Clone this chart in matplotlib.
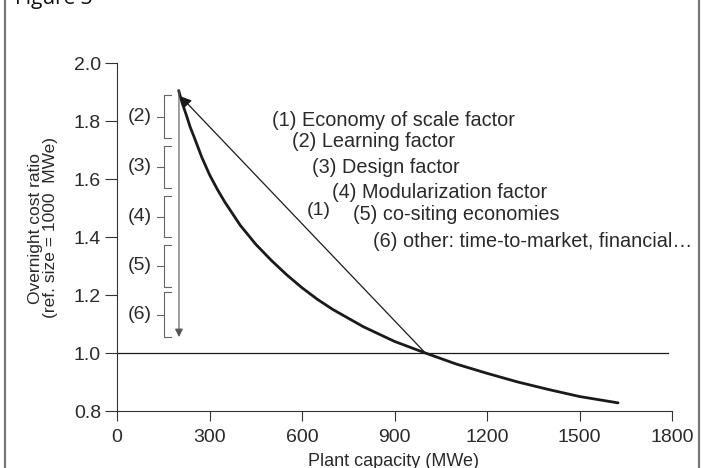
import numpy as np
import matplotlib
matplotlib.use("Agg")
import matplotlib.pyplot as plt
from matplotlib.lines import Line2D

plt.rcParams['font.family'] = ['Liberation Sans', 'DejaVu Sans']

# cost ratio curve (MWe, ratio to 1000 MWe plant)
capacity = [200, 212, 225, 237, 250, 275, 300, 325, 350, 375, 400, 450, 500,
            550, 600, 650, 700, 750, 800, 850, 900, 950, 1000,
            1100, 1200, 1300, 1400, 1500, 1625]
cost_ratio = [1.905, 1.86, 1.82, 1.78, 1.745, 1.675, 1.615, 1.565, 1.52, 1.48,
              1.44, 1.375, 1.32, 1.27, 1.225, 1.185, 1.15, 1.12, 1.09, 1.065,
              1.04, 1.02, 1.00, 0.962, 0.93, 0.90, 0.874, 0.85, 0.828]

factors = ["(1) Economy of scale factor",
           "(2) Learning factor",
           "(3) Design factor",
           "(4) Modularization factor",
           "(5) co-siting economies",
           "(6) other: time-to-market, financial\u2026"]
text_x = [503, 568, 632, 697, 765, 830]
text_y = [1.803, 1.728, 1.641, 1.555, 1.476, 1.383]

# bracket extents on the left (factors 2..6)
bracket_labels = ["(2)", "(3)", "(4)", "(5)", "(6)"]
bracket_lo = [1.741, 1.569, 1.400, 1.228, 1.055]
bracket_hi = [1.890, 1.714, 1.541, 1.372, 1.210]

xticks = [0, 300, 600, 900, 1200, 1500, 1800]
yticks = [0.8, 1.0, 1.2, 1.4, 1.6, 1.8, 2.0]

fig = plt.figure(figsize=(7.04, 4.68), dpi=100)
ax = fig.add_axes([117/704, 1 - 411/468, 555/704, 348/468])

txt = '#2a2a2a'
ax.plot(capacity, cost_ratio, color='#1a1a1a', lw=2.0,
        solid_capstyle='round', solid_joinstyle='round')
ax.axhline(1.0, xmax=0.993, color='#1a1a1a', lw=0.9)

# diagonal arrow (1)
ax.annotate('', xy=(206, 1.885), xytext=(1000, 1.0),
            arrowprops=dict(arrowstyle='-|>', color='#1a1a1a', lw=0.9,
                            mutation_scale=16, shrinkA=0, shrinkB=0))
ax.text(616, 1.493, "(1)", fontsize=14, color=txt, ha='left', va='center')

# vertical arrow
ax.annotate('', xy=(201, 1.055), xytext=(201, 1.907),
            arrowprops=dict(arrowstyle='-|>', color='#555555', lw=0.8,
                            mutation_scale=12, shrinkA=0, shrinkB=0))

# brackets
for lab, lo, hi in zip(bracket_labels, bracket_lo, bracket_hi):
    mid = (lo + hi) / 2
    ax.plot([175, 152, 152, 175], [hi, hi, lo, lo], color='#666666', lw=0.8)
    ax.plot([130, 152], [mid, mid], color='#666666', lw=0.8)
    ax.text(114, mid, lab, fontsize=14, color=txt, ha='right', va='center')

for s, x, y in zip(factors, text_x, text_y):
    ax.text(x, y, s, fontsize=14.3, color=txt, ha='left', va='center')

ax.set_xlim(0, 1800)
ax.set_ylim(0.8, 2.0)
ax.set_xticks(xticks)
ax.set_yticks(yticks)
ax.set_xticklabels([str(v) for v in xticks])
ax.set_yticklabels([f"{v:.1f}" for v in yticks])
ax.spines['top'].set_visible(False)
ax.spines['right'].set_visible(False)
for sp in ['left', 'bottom']:
    ax.spines[sp].set_color('#333333')
    ax.spines[sp].set_linewidth(0.8)
ax.tick_params(axis='x', direction='out', length=7, pad=6, labelsize=14,
               labelcolor=txt, color='#333333')
ax.tick_params(axis='y', direction='out', length=8.5, pad=3, labelsize=14,
               labelcolor=txt, color='#333333')
ax.patch.set_alpha(0)

fig.text(43/704, 1 - 228/468, "Overnight cost ratio\n(ref. size = 1000  MWe)",
         rotation=90, ha='center', va='center', multialignment='center',
         fontsize=12.5, color=txt, linespacing=1.0)
fig.text(393/704, 1 - 461/468, "Plant capacity (MWe)", ha='center', va='center',
         fontsize=13, color=txt)

fig.text(15/704, 1 - 4/468, "Figure 3", ha='left', va='baseline', fontsize=15,
         color='#111111', family=['Open Sans', 'DejaVu Sans'])

# page border
fig.add_artist(Line2D([5/704, 5/704], [0, 1], transform=fig.transFigure,
                      color='#777777', lw=1.6))
fig.add_artist(Line2D([699/704, 699/704], [0, 1], transform=fig.transFigure,
                      color='#777777', lw=1.6))

fig.savefig("out.png", dpi=100)
